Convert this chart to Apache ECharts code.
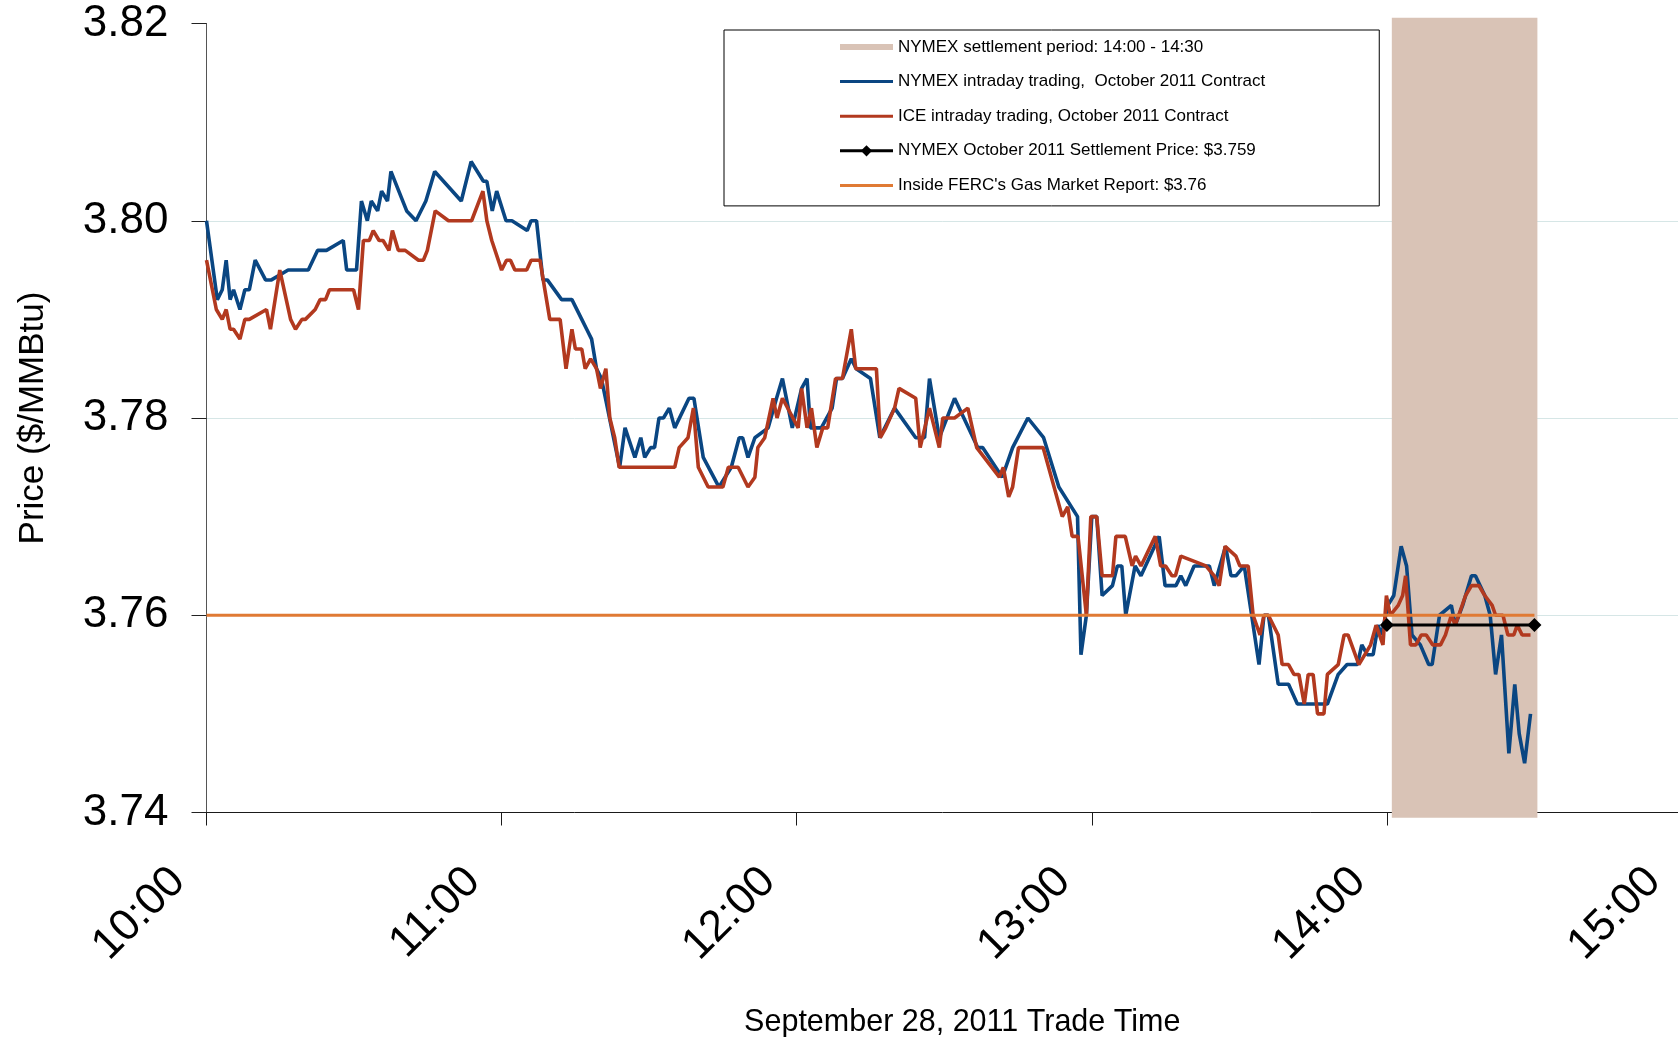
<!DOCTYPE html>
<html>
<head>
<meta charset="utf-8">
<script src="https://cdn.jsdelivr.net/npm/echarts@6/dist/echarts.min.js"></script>
<style>
html,body{margin:0;padding:0;background:#fff;}
#chart{width:1678px;height:1037px;}
</style>
</head>
<body>
<div id="chart"></div>
<script>
// x values are minutes after 10:00
const timeLabels = ['10:00', '11:00', '12:00', '13:00', '14:00', '15:00'];
const yTicks = [3.74, 3.76, 3.78, 3.80, 3.82];

const nymexIntraday = [
  [0,3.800],[2.2,3.792],[3.2,3.793],[4.0,3.796],[4.8,3.792],[5.5,3.793],[6.8,3.791],[7.8,3.793],[8.7,3.793],
  [9.9,3.796],[12.0,3.794],[13.2,3.794],[16.6,3.795],[20.7,3.795],[22.6,3.797],[24.4,3.797],[27.8,3.798],
  [28.5,3.795],[30.5,3.795],[31.5,3.802],[32.7,3.800],[33.5,3.802],[34.8,3.801],[35.6,3.803],[36.8,3.802],
  [37.5,3.805],[40.7,3.801],[42.6,3.800],[44.6,3.802],[46.4,3.805],[51.8,3.802],[53.8,3.806],[56.3,3.804],
  [57.0,3.804],[58.1,3.801],[59.0,3.803],[60.9,3.800],[62.1,3.800],[65.2,3.799],[66.0,3.800],[67.1,3.800],
  [68.4,3.794],[69.3,3.794],[72.2,3.792],[74.3,3.792],[76.3,3.790],[77.3,3.789],[78.3,3.788],[79.3,3.785],
  [80.3,3.784],[84.0,3.775],[85.1,3.779],[87.1,3.776],[88.3,3.778],[89.1,3.776],[90.3,3.777],[91.1,3.777],
  [92.0,3.780],[92.9,3.780],[94.1,3.781],[95.2,3.779],[98.1,3.782],[99.1,3.782],[101.0,3.776],[104.2,3.773],
  [106.7,3.775],[108.3,3.778],[109.0,3.778],[110.1,3.776],[111.5,3.778],[114.2,3.779],[115.9,3.782],
  [117.1,3.784],[119.1,3.779],[121.0,3.783],[122.1,3.784],[122.8,3.779],[125.0,3.779],[127.2,3.781],
  [128.1,3.784],[129.3,3.784],[131.1,3.786],[132.1,3.785],[135.0,3.784],[136.9,3.778],[139.9,3.781],
  [144.2,3.778],[146.0,3.778],[147.0,3.784],[149.0,3.778],[152.1,3.782],[156.8,3.777],[157.8,3.777],
  [161.8,3.774],[163.9,3.777],[167.0,3.780],[170.2,3.778],[173.3,3.773],[177.1,3.770],[177.8,3.756],
  [178.9,3.760],[180.0,3.770],[181.0,3.770],[182.1,3.762],[184.2,3.763],[185.2,3.765],[186.1,3.765],
  [186.9,3.760],[188.8,3.765],[190.0,3.764],[193.7,3.768],[194.9,3.763],[197.1,3.763],[198.1,3.764],
  [199.1,3.763],[200.8,3.765],[203.9,3.765],[204.9,3.763],[207.2,3.767],[208.3,3.764],[209.3,3.764],
  [211.0,3.765],[214.0,3.755],[215.0,3.760],[215.9,3.760],[217.9,3.753],[220.0,3.753],[221.8,3.751],
  [227.9,3.751],[230.1,3.754],[231.9,3.755],[234.0,3.755],[234.9,3.757],[236.0,3.756],[237.2,3.756],
  [238.2,3.759],[238.9,3.758],[240.2,3.761],[241.4,3.762],[242.9,3.767],[244.0,3.765],[245.1,3.758],
  [246.8,3.757],[248.5,3.755],[249.2,3.755],[250.7,3.760],[253.1,3.761],[253.9,3.759],[255.4,3.761],
  [257.2,3.764],[258.0,3.764],[259.9,3.762],[261.0,3.760],[262.1,3.754],[263.3,3.758],[264.8,3.746],
  [266.0,3.753],[266.9,3.748],[268.0,3.745],[269.2,3.750]
];

const iceIntraday = [
  [0,3.796],[0.3,3.796],[2.0,3.791],[3.2,3.790],[4.0,3.791],[4.8,3.789],[5.5,3.789],[6.8,3.788],[7.8,3.790],
  [8.7,3.790],[12.2,3.791],[13.0,3.789],[14.9,3.795],[17.1,3.790],[18.1,3.789],[19.4,3.790],[20.1,3.790],
  [22.1,3.791],[23.1,3.792],[24.2,3.792],[25.0,3.793],[29.9,3.793],[30.9,3.791],[31.9,3.798],[33.1,3.798],
  [33.9,3.799],[35.1,3.798],[35.9,3.798],[37.1,3.797],[37.8,3.799],[39.0,3.797],[40.4,3.797],[43.1,3.796],
  [44.1,3.796],[44.9,3.797],[46.5,3.801],[49.2,3.800],[53.9,3.800],[56.2,3.803],[57.0,3.800],[58.0,3.798],
  [60.0,3.795],[61.0,3.796],[61.8,3.796],[62.7,3.795],[65.1,3.795],[66.0,3.796],[67.8,3.796],[69.8,3.790],
  [71.9,3.790],[73.1,3.785],[74.3,3.789],[75.0,3.787],[76.3,3.787],[77.0,3.785],[78.1,3.786],[79.3,3.785],
  [80.1,3.783],[81.2,3.785],[82.0,3.780],[83.0,3.778],[83.9,3.775],[95.2,3.775],[96.1,3.777],[97.9,3.778],
  [99.0,3.781],[100.0,3.775],[102.0,3.773],[105.0,3.773],[106.1,3.775],[108.1,3.775],[110.1,3.773],
  [111.5,3.774],[112.1,3.777],[113.5,3.778],[115.2,3.782],[116.0,3.780],[117.1,3.782],[120.3,3.779],
  [121.0,3.783],[122.1,3.779],[123.0,3.781],[124.1,3.777],[125.3,3.779],[126.3,3.779],[127.9,3.784],
  [129.3,3.784],[131.1,3.789],[132.0,3.785],[136.2,3.785],[137.0,3.778],[138.1,3.779],[139.9,3.781],
  [140.8,3.783],[144.2,3.782],[145.1,3.777],[147.0,3.781],[149.0,3.777],[149.7,3.780],[152.1,3.780],
  [154.8,3.781],[156.6,3.777],[161.2,3.774],[162.0,3.775],[163.1,3.772],[163.9,3.773],[165.1,3.777],
  [170.1,3.777],[174.0,3.770],[175.1,3.771],[176.0,3.768],[177.2,3.768],[178.9,3.760],[179.8,3.770],
  [181.0,3.770],[182.1,3.764],[184.2,3.764],[184.9,3.768],[186.8,3.768],[188.2,3.765],[188.9,3.766],
  [190.0,3.765],[192.9,3.768],[194.0,3.765],[195.0,3.765],[196.3,3.764],[197.0,3.764],[198.1,3.766],
  [203.2,3.765],[204.9,3.764],[205.9,3.763],[207.1,3.767],[209.3,3.766],[210.1,3.765],[211.8,3.765],
  [212.8,3.760],[214.2,3.758],[215.0,3.760],[215.9,3.760],[217.9,3.758],[218.7,3.755],[220.0,3.755],
  [221.1,3.754],[222.1,3.754],[223.2,3.751],[224.0,3.754],[225.0,3.754],[225.9,3.750],[227.2,3.750],
  [227.9,3.754],[230.1,3.755],[231.3,3.758],[232.1,3.758],[234.3,3.755],[236.7,3.757],[237.8,3.759],
  [239.2,3.757],[239.9,3.762],[240.7,3.760],[242.3,3.761],[243.2,3.762],[243.8,3.764],[244.8,3.757],
  [245.9,3.757],[247.0,3.758],[248.0,3.758],[249.3,3.757],[250.9,3.757],[251.9,3.758],[253.1,3.760],
  [253.9,3.759],[256.0,3.762],[257.2,3.763],[258.7,3.763],[259.9,3.762],[261.4,3.761],[262.1,3.760],
  [263.6,3.760],[264.6,3.758],[265.8,3.758],[266.5,3.759],[267.5,3.758],[269.2,3.758]
];

const settlementPrice = 3.759;
const settlementWindow = [240, 270];      // 14:00 - 14:30
const settlementBand = [241, 270.6];      // shaded period as drawn
const fercPrice = 3.76;
const fercWindow = [0, 270];

const names = {
  band: 'NYMEX settlement period: 14:00 - 14:30',
  nymex: 'NYMEX intraday trading,  October 2011 Contract',
  ice: 'ICE intraday trading, October 2011 Contract',
  settle: 'NYMEX October 2011 Settlement Price: $3.759',
  ferc: "Inside FERC's Gas Market Report: $3.76"
};

const C = {band: '#d9c3b6', nymex: '#0a4682', ice: '#b2391f', ferc: '#e07a34', settle: '#000000'};
const FONT = "'Liberation Sans', Arial, sans-serif";
const chart = echarts.init(document.getElementById('chart'), null, {renderer: 'canvas'});

const noSym = {color: 'rgba(0,0,0,0)', borderWidth: 0, opacity: 0};

chart.setOption({
  animation: false,
  backgroundColor: '#ffffff',
  grid: [
    {left: 206.5, right: -4, top: 23.5, bottom: 224.5, containLabel: false, outerBoundsMode: 'none'},
    {left: 206.5, right: -4, top: 17.7, bottom: 219.3, containLabel: false, outerBoundsMode: 'none', show: false}
  ],
  legend: {
    orient: 'vertical',
    left: 724,
    top: 30,
    padding: [8.5, 114, 12, 113],
    itemWidth: 53,
    itemHeight: 14,
    itemGap: 17.6,
    borderColor: '#000',
    borderWidth: 1,
    backgroundColor: '#fff',
    textStyle: {fontFamily: FONT, fontSize: 17, color: '#000'},
    data: [
      {name: names.band, itemStyle: noSym, lineStyle: {color: C.band, width: 6}},
      {name: names.nymex, itemStyle: noSym, lineStyle: {color: C.nymex, width: 3}},
      {name: names.ice, itemStyle: noSym, lineStyle: {color: C.ice, width: 3}},
      {name: names.settle, lineStyle: {color: C.settle, width: 3}},
      {name: names.ferc, itemStyle: noSym, lineStyle: {color: C.ferc, width: 3}}
    ]
  },
  xAxis: [
    {
      type: 'value',
      gridIndex: 0,
      min: 0,
      max: 300,
      interval: 60,
      name: 'September 28, 2011 Trade Time',
      nameLocation: 'middle',
      nameGap: 195,
      nameTextStyle: {fontFamily: FONT, fontSize: 30.5, color: '#000', padding: [0, 0, 0, 36]},
      axisLine: {show: true, lineStyle: {color: '#1a1a1a', width: 1}},
      axisTick: {show: true, length: 13, lineStyle: {color: '#1a1a1a'}},
      axisLabel: {
        show: true,
        rotate: 45,
        margin: 34,
        padding: [0, 40, 0, 0],
        fontFamily: FONT,
        fontSize: 44,
        color: '#000',
        showMinLabel: true,
        showMaxLabel: true,
        formatter: v => timeLabels[Math.round(v / 60)]
      },
      splitLine: {show: false}
    },
    {
      type: 'value', gridIndex: 1, min: 0, max: 300, show: false,
      axisLine: {show: false}, axisTick: {show: false}, axisLabel: {show: false}, splitLine: {show: false}
    }
  ],
  yAxis: [
    {
      type: 'value',
      gridIndex: 0,
      min: yTicks[0],
      max: yTicks[yTicks.length - 1],
      interval: 0.02,
      name: 'Price ($/MMBtu)',
      nameLocation: 'middle',
      nameGap: 156,
      nameTextStyle: {fontFamily: FONT, fontSize: 35, color: '#000'},
      axisLine: {show: true, lineStyle: {color: '#555', width: 1}},
      axisTick: {show: true, length: 15, lineStyle: {color: '#222'}},
      axisLabel: {
        margin: 38,
        fontFamily: FONT,
        fontSize: 44,
        color: '#000',
        formatter: v => v.toFixed(2)
      },
      splitLine: {show: true, showMaxLine: false, showMinLine: false, lineStyle: {color: '#d6e6e6', width: 1}}
    },
    {
      type: 'value', gridIndex: 1, min: 0, max: 1, show: false,
      axisLine: {show: false}, axisTick: {show: false}, axisLabel: {show: false}, splitLine: {show: false}
    }
  ],
  series: [
    {
      name: names.band,
      type: 'line',
      xAxisIndex: 1,
      yAxisIndex: 1,
      data: [],
      symbol: 'none',
      z: 1,
      itemStyle: {color: C.band},
      lineStyle: {color: C.band, width: 6},
      markArea: {
        silent: true,
        itemStyle: {color: C.band},
        data: [[
          {xAxis: settlementBand[0], yAxis: 0},
          {xAxis: settlementBand[1], yAxis: 1}
        ]]
      }
    },
    {
      name: names.nymex,
      type: 'line',
      data: nymexIntraday,
      symbol: 'none',
      z: 3,
      itemStyle: {color: C.nymex},
      lineStyle: {color: C.nymex, width: 3.6}
    },
    {
      name: names.ice,
      type: 'line',
      data: iceIntraday,
      symbol: 'none',
      z: 4,
      itemStyle: {color: C.ice},
      lineStyle: {color: C.ice, width: 3.6}
    },
    {
      name: names.ferc,
      type: 'line',
      data: fercWindow.map(t => [t, fercPrice]),
      symbol: 'none',
      z: 5,
      itemStyle: {color: C.ferc},
      lineStyle: {color: C.ferc, width: 3.2}
    },
    {
      name: names.settle,
      type: 'line',
      data: settlementWindow.map(t => [t, settlementPrice]),
      symbol: 'diamond',
      symbolSize: 14,
      showSymbol: true,
      z: 6,
      itemStyle: {color: C.settle},
      lineStyle: {color: C.settle, width: 3}
    }
  ]
});
</script>
</body>
</html>
